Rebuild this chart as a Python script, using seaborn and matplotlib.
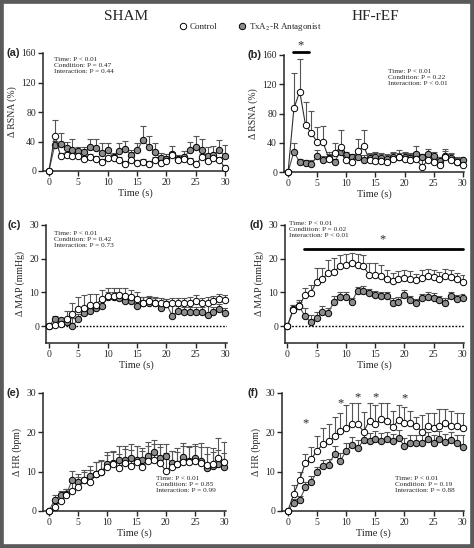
import numpy as np
import pandas as pd
import matplotlib
matplotlib.use("Agg")
import matplotlib.pyplot as plt
from matplotlib.lines import Line2D
from matplotlib.patches import Rectangle
import seaborn as sns

# time points (s)
time = list(range(31))

# (a) SHAM RSNA
a_ctrl = [0, 48, 20, 22, 21, 20, 16, 19, 16, 12, 17, 17, 15, 9, 15, 11, 12, 10, 15, 11, 14, 22, 15, 16, 14, 9, 19, 14, 18, 15, 4]
a_ctrl_err = [0, 21, 4, 4, 4, 4, 4, 4, 4, 4, 4, 4, 4, 4, 4, 4, 4, 4, 4, 4, 4, 4, 4, 4, 4, 4, 4, 4, 4, 4, 4]
a_anta = [0, 35, 37, 31, 29, 27, 26, 32, 31, 25, 28, 19, 27, 30, 22, 28, 42, 33, 26, 17, 16, 23, 16, 19, 28, 32, 28, 20, 22, 28, 20]
a_anta_err = [0, 6, 14, 9, 14, 6, 7, 11, 12, 13, 10, 5, 11, 11, 6, 10, 19, 15, 12, 8, 7, 11, 6, 8, 12, 15, 15, 12, 12, 14, 15]

# (b) HF-rEF RSNA
b_ctrl = [0, 87, 110, 64, 53, 41, 41, 18, 26, 34, 17, 14, 29, 35, 16, 15, 15, 14, 18, 20, 18, 17, 18, 7, 16, 14, 9, 20, 17, 13, 10]
b_ctrl_err = [0, 48, 45, 32, 31, 20, 22, 10, 14, 23, 8, 6, 16, 22, 10, 11, 11, 10, 10, 10, 10, 9, 9, 15, 10, 9, 11, 9, 9, 8, 8]
b_anta = [0, 28, 13, 12, 11, 22, 17, 19, 14, 28, 23, 20, 21, 17, 19, 21, 19, 18, 20, 21, 20, 19, 24, 20, 24, 22, 15, 22, 19, 14, 16]
b_anta_err = [0, 11, 5, 4, 5, 8, 5, 5, 4, 5, 5, 4, 5, 6, 5, 6, 5, 5, 6, 5, 6, 5, 12, 5, 8, 6, 6, 10, 5, 5, 5]

# (c) SHAM MAP
c_ctrl = [0, 0.4, 0.7, 2, 3.7, 5, 5.5, 6.2, 6.4, 8, 8.8, 8.8, 9.2, 9, 8.6, 8, 7, 7.4, 6.8, 6.8, 6.6, 6.8, 6.8, 6.8, 7, 7.6, 6.8, 7, 7.4, 8, 7.8]
c_ctrl_err = [0, 1.5, 1.5, 2.5, 3.3, 3.7, 3.7, 3.2, 3, 2.8, 2.5, 2.5, 2.2, 2.2, 2, 2, 1.5, 1.5, 1.5, 1.5, 1.5, 1.5, 1.5, 1.5, 1.5, 1.5, 1.5, 1.5, 1.5, 1.5, 1.5]
c_anta = [0, 2.2, 1.7, 1.2, 0, 2.2, 4, 4.5, 5.5, 6, 8.5, 8.6, 8.3, 7.5, 7.5, 6, 7, 7, 7, 5.5, 6.5, 3, 4.5, 4.3, 4.3, 4.3, 4.3, 3.2, 4.3, 5.2, 4]
c_anta_err = [0, 0.8, 0.8, 0.8, 2.5, 1.5, 1.5, 1.5, 1.5, 1.5, 1.5, 1.5, 1.5, 1.5, 1.5, 1.5, 1.5, 1.5, 1.5, 1.5, 1.5, 3.5, 1.5, 1.5, 1.5, 1.5, 1.5, 3.5, 1.5, 1.5, 1.5]

# (d) HF-rEF MAP
d_ctrl = [0, 4.8, 5.9, 9.2, 9.8, 13.1, 14.1, 15.7, 16.2, 17.7, 18, 18.8, 18, 17.7, 15.2, 15.2, 15, 14.1, 13.3, 13.9, 14.3, 13.9, 13.6, 14.3, 15, 14.6, 14.1, 15, 14.6, 13.9, 13.1]
d_ctrl_err = [0, 1.5, 2, 2, 2.5, 4, 3, 4, 4, 3.5, 3.5, 3, 3.5, 3.5, 3.5, 3.5, 3, 2.5, 2.5, 2.5, 2.5, 2.5, 2, 2.5, 2, 2, 2, 2, 2, 2, 2]
d_anta = [0, 5, 6, 3, 1.2, 2.3, 4.3, 4, 7.3, 8.5, 8.5, 7.2, 10.5, 10.5, 9.8, 9.3, 8.8, 8.8, 7, 7.3, 9.2, 7.8, 6.9, 8.2, 8.6, 8.2, 7.8, 7, 8.8, 8.1, 8.4]
d_anta_err = [0, 1.2, 1.3, 2.5, 2, 1.8, 1.8, 1.5, 1.5, 1.5, 1.5, 1.2, 1.2, 1.3, 1.2, 1.2, 1.2, 1.2, 1.2, 1.2, 1.5, 1.2, 1.2, 1.2, 1.5, 1.5, 1.2, 1.2, 1.2, 1.2, 1.2]

# (e) SHAM HR
e_ctrl = [0, 1, 2.5, 4, 5, 6.2, 8, 7.5, 9.5, 9.8, 11.3, 12, 11, 12.3, 11.5, 12.5, 11.3, 12.6, 13, 12.3, 10.2, 11.3, 12, 12.5, 12.5, 12.6, 12.3, 11.8, 12, 13.5, 12.5]
e_ctrl_err = [0, 1, 1.5, 1.5, 2.5, 2.5, 2.5, 3, 3, 3, 3, 3, 3.5, 3.5, 4, 4, 4, 4, 4, 4, 4.5, 4, 4, 4, 4, 4, 5, 4.5, 4, 5, 5]
e_anta = [0, 2.8, 4, 4.2, 8, 7.5, 8, 9, 9.5, 10, 12, 12.2, 13, 13, 13.5, 13, 13, 14, 15, 13.5, 14, 12.2, 12, 13.7, 12.7, 13.5, 12.8, 11, 11.5, 12, 11.3]
e_anta_err = [0, 1.2, 1.2, 1.5, 2.2, 2, 2, 2.5, 3, 3, 3, 3, 3.5, 3.5, 3.5, 3.5, 3, 3.5, 3, 3.5, 3, 3, 3, 3.5, 3.5, 3.5, 3.5, 3.5, 3.5, 3.5, 3.5]

# (f) HF-rEF HR
f_ctrl = [0, 4.3, 7.8, 12.2, 13.2, 15.3, 17, 17.7, 19, 20.3, 21, 22, 22, 20.2, 23, 22, 23.5, 23, 21.3, 23.2, 22.5, 22.5, 21.5, 20.2, 21.5, 21, 21.5, 22.3, 21.5, 21.5, 21]
f_ctrl_err = [0, 2.3, 2, 2.3, 3, 3.7, 4, 4.3, 5, 4.7, 6, 5.5, 5.5, 5, 4.5, 5, 4, 4.5, 4, 3.8, 4, 3, 2.5, 4.3, 3.5, 4, 4.5, 3.7, 4, 3.5, 4]
f_anta = [0, 2, 2.7, 6, 7.5, 9.8, 11.5, 11.8, 14.5, 12.7, 15.3, 16.8, 16, 18, 17.8, 18.3, 17.8, 18.2, 17.7, 18.5, 16.5, 17.4, 17.4, 17.4, 18.2, 17.2, 18.3, 17.5, 18, 17.2, 16.3]
f_anta_err = [0, 1, 1, 1.5, 1.5, 1.5, 1.5, 1.5, 2, 2, 2, 2, 2, 2, 2, 2, 2, 2, 2, 2, 2, 2, 2, 2, 2, 2, 2, 2, 2, 2, 3]

stats = {
    "a": ["Time: P < 0.01", "Condition: P = 0.47", "Interaction: P = 0.44"],
    "b": ["Time: P < 0.01", "Condition: P = 0.22", "Interaction: P < 0.01"],
    "c": ["Time: P < 0.01", "Condition: P = 0.42", "Interaction: P = 0.73"],
    "d": ["Time: P < 0.01", "Condition: P = 0.02", "Interaction: P < 0.01"],
    "e": ["Time: P < 0.01", "Condition: P = 0.85", "Interaction: P = 0.99"],
    "f": ["Time: P < 0.01", "Condition: P = 0.19", "Interaction: P = 0.88"],
}
f_star_t = [3, 9, 12, 15, 20]
f_star_y = [22.2, 27.5, 28.8, 28.8, 28.6]

sns.set_style("ticks")
plt.rcParams["font.family"] = ["Liberation Serif", "DejaVu Serif"]
plt.rcParams["mathtext.fontset"] = "stix"

W, H = 474, 548
fig = plt.figure(figsize=(W / 100, H / 100), dpi=100)
fig.patch.set_facecolor("white")

def make_ax(x0, ytop, x1, ybot):
    return fig.add_axes([x0 / W, 1 - ybot / H, (x1 - x0) / W, (ybot - ytop) / H])

GRAY = "#8c8c8c"

def draw(ax, ctrl, ctrl_err, anta, anta_err):
    for vals, err, fc, lc in [(anta, anta_err, GRAY, "#505050"), (ctrl, ctrl_err, "white", "#303030")]:
        ax.errorbar(time, vals, yerr=[np.zeros(len(err)), err], fmt="none",
                    ecolor="#555555", elinewidth=0.8, capsize=2, capthick=0.8, zorder=2)
        df = pd.DataFrame({"t": time, "v": vals})
        sns.lineplot(data=df, x="t", y="v", ax=ax, color=lc, linewidth=0.8,
                     marker="o", markersize=4.6, markerfacecolor=fc,
                     markeredgecolor="black", markeredgewidth=0.7,
                     errorbar=None, zorder=3, clip_on=False)

def style(ax, xlim, ylim, yticks, ylabel, letter, lx):
    ax.set_xlim(*xlim)
    ax.set_ylim(*ylim)
    ax.set_xticks([0, 5, 10, 15, 20, 25, 30])
    ax.set_yticks(yticks)
    ax.tick_params(labelsize=7, length=3.5, width=1, pad=1.5)
    for s in ["left", "bottom"]:
        ax.spines[s].set_linewidth(1.1)
    sns.despine(ax=ax)
    ax.set_xlabel("Time (s)", fontsize=7.5, labelpad=1)
    ax.set_ylabel(ylabel, fontsize=7, labelpad=3)
    ax.text(lx, 1.0, letter, transform=ax.transAxes, fontsize=8, fontweight="bold",
            family="Liberation Sans", ha="left", va="center")

def stat_text(ax, x, y, lines, ha="left"):
    ax.text(x, y, "\n".join(lines), transform=ax.transAxes, fontsize=5.2,
            ha=ha, va="top", linespacing=1.25, zorder=6)

# panel a
ax = make_ax(43, 53, 227, 171)
draw(ax, a_ctrl, a_ctrl_err, a_anta, a_anta_err)
style(ax, (-1, 30.3), (0, 160), [0, 40, 80, 120, 160], "Δ RSNA (%)", "(a)", -0.2)
stat_text(ax, 0.06, 0.97, stats["a"])

# panel b
ax = make_ax(284, 55, 464, 172)
draw(ax, b_ctrl, b_ctrl_err, b_anta, b_anta_err)
style(ax, (-0.7, 30.2), (0, 160), [0, 40, 80, 120, 160], "Δ RSNA (%)", "(b)", -0.2)
ax.plot([0.9, 3.6], [164, 164], color="black", linewidth=2, clip_on=False)
ax.text(2.2, 173, "*", fontsize=9, ha="center", va="center", clip_on=False)
stat_text(ax, 0.58, 0.88, stats["b"])

# panel c
ax = make_ax(46, 225, 227, 343)
draw(ax, c_ctrl, c_ctrl_err, c_anta, c_anta_err)
ax.axhline(0, color="black", linestyle=(0, (1.2, 1.2)), linewidth=1, zorder=1)
style(ax, (-0.5, 30.3), (-5, 30), [0, 10, 20, 30], "Δ MAP (mmHg)", "(c)", -0.215)
stat_text(ax, 0.045, 0.95, stats["c"])

# panel d
ax = make_ax(285, 225, 464, 343)
draw(ax, d_ctrl, d_ctrl_err, d_anta, d_anta_err)
ax.axhline(0, color="black", linestyle=(0, (1.2, 1.2)), linewidth=1, zorder=1)
style(ax, (-0.4, 30.2), (-5, 30), [0, 10, 20, 30], "Δ MAP (mmHg)", "(d)", -0.2)
ax.plot([2.9, 30], [22.8, 22.8], color="black", linewidth=2, clip_on=False)
ax.text(16.2, 25.8, "*", fontsize=9, ha="center", va="center")
stat_text(ax, 0.02, 1.03, stats["d"])

# panel e
ax = make_ax(43, 393, 226, 511)
draw(ax, e_ctrl, e_ctrl_err, e_anta, e_anta_err)
style(ax, (-1, 30.3), (0, 30), [0, 10, 20, 30], "Δ HR (bpm)", "(e)", -0.2)
stat_text(ax, 0.62, 0.3, stats["e"])

# panel f
ax = make_ax(282, 393, 464, 511)
draw(ax, f_ctrl, f_ctrl_err, f_anta, f_anta_err)
style(ax, (-1, 30.2), (0, 30), [0, 10, 20, 30], "Δ HR (bpm)", "(f)", -0.19)
for t, y in zip(f_star_t, f_star_y):
    ax.text(t, y, "*", fontsize=9, ha="center", va="center")
stat_text(ax, 0.62, 0.3, stats["f"])

# column titles and legend
fig.text(126 / W, 1 - 16 / H, "SHAM", fontsize=11, ha="center", va="center")
fig.text(375 / W, 1 - 16 / H, "HF-rEF", fontsize=11, ha="center", va="center")
handles = [
    Line2D([], [], linestyle="none", marker="o", markersize=4.6, markerfacecolor="white",
           markeredgecolor="black", markeredgewidth=0.7, label="Control"),
    Line2D([], [], linestyle="none", marker="o", markersize=4.6, markerfacecolor=GRAY,
           markeredgecolor="black", markeredgewidth=0.7, label="TxA$_2$-R Antagonist"),
]
fig.legend(handles=handles, loc="center", bbox_to_anchor=(250 / W, 1 - 27 / H), ncol=2,
           frameon=False, fontsize=6.5, handletextpad=0.3, columnspacing=2.2, handlelength=1)

fig.patches.append(Rectangle((0, 0), 1, 1, transform=fig.transFigure, fill=False,
                             edgecolor="#5a5a5a", linewidth=5.5))

fig.savefig("out.png", dpi=100)
